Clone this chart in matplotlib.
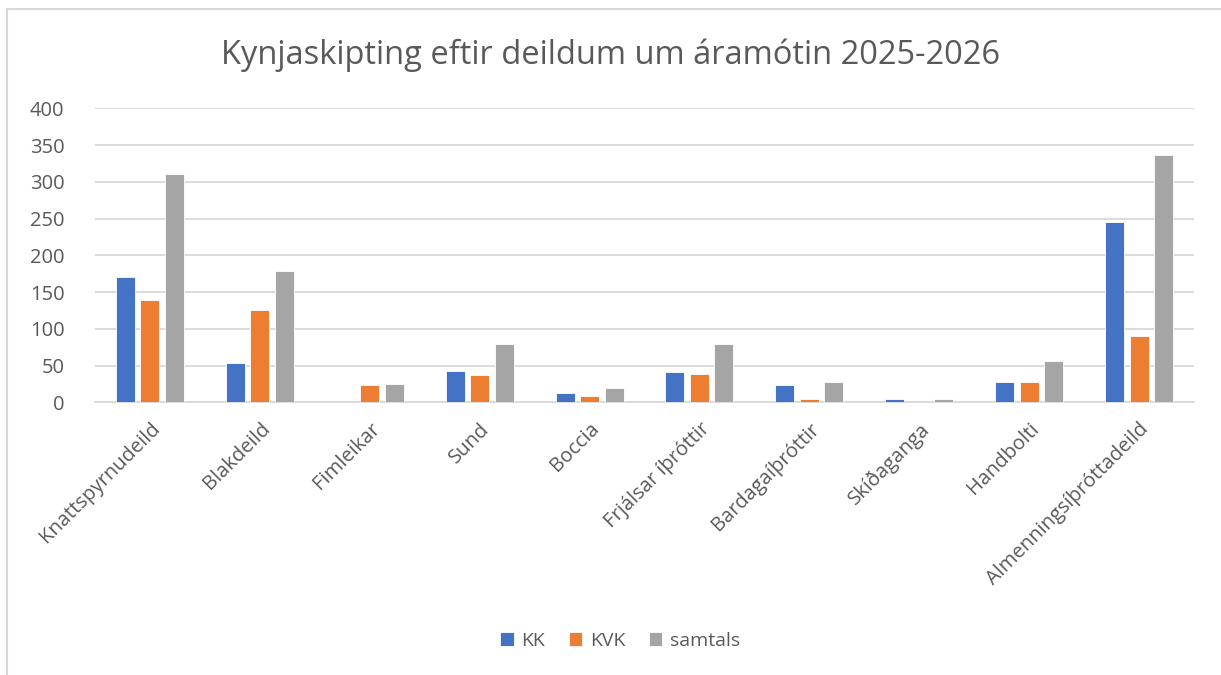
import numpy as np
import matplotlib.pyplot as plt
from matplotlib.patches import Rectangle

plt.rcParams['font.family'] = ['Open Sans', 'DejaVu Sans']

categories = ['Knattspyrnudeild', 'Blakdeild', 'Fimleikar', 'Sund', 'Boccia',
              'Frjálsar íþróttir', 'Bardagaíþróttir', 'Skíðaganga', 'Handbolti',
              'Almenningsíþróttadeild']
kk = [170, 53, 0, 43, 12, 41, 23, 5, 27, 245]
kvk = [139, 125, 24, 37, 8, 38, 4, 0, 27, 90]
samtals = [310, 178, 25, 79, 20, 79, 27, 5, 56, 336]
series_names = ['KK', 'KVK', 'samtals']
colors = ['#4472C4', '#ED7D31', '#A5A5A5']
text_color = '#595959'

fig = plt.figure(figsize=(12.21, 6.75), dpi=100)
# chart area border
fig.patches.append(Rectangle((7 / 1221, -0.01), 1.02, 1 - 9 / 675 + 0.01,
                             transform=fig.transFigure, fill=False,
                             edgecolor='#D9D9D9', linewidth=1.5))

ax = fig.add_axes([95 / 1221, 1 - 402.3 / 675, (1194 - 95) / 1221, (402.3 - 108.3) / 675])

x = np.arange(len(categories))
w = 0.173
off = 0.223
for i, (vals, name) in enumerate(zip([kk, kvk, samtals], series_names)):
    ax.bar(x + (i - 1) * off, vals, width=w, color=colors[i], label=name,
           edgecolor='white', linewidth=0.6, zorder=3)

ax.set_xlim(-0.5, len(categories) - 0.5)
ax.set_ylim(0, 400)
ax.set_yticks(range(0, 401, 50))
ax.yaxis.grid(True, color='#D9D9D9', linewidth=1.3, zorder=0)
for s in ['top', 'right', 'left']:
    ax.spines[s].set_visible(False)
ax.spines['bottom'].set_color('#D9D9D9')
ax.spines['bottom'].set_linewidth(1.3)
ax.tick_params(axis='both', length=0, colors=text_color, labelsize=14.5)
ax.tick_params(axis='y', pad=22)
ax.set_xticks(x)
ax.set_xticklabels(categories, rotation=45, ha='right', rotation_mode='anchor')
ax.tick_params(axis='x', pad=12)

fig.text(0.5, 1 - 55 / 675, 'Kynjaskipting eftir deildum um áramótin 2025-2026',
         ha='center', va='center', fontsize=23.5, color=text_color)

fig.legend(loc='center', bbox_to_anchor=(0.508, 1 - 641 / 675), ncol=3, frameon=False,
           fontsize=14, labelcolor=text_color, handlelength=0.7, handleheight=0.7,
           handletextpad=0.4, columnspacing=1.2)

fig.savefig('out.png', dpi=100, facecolor='white')
